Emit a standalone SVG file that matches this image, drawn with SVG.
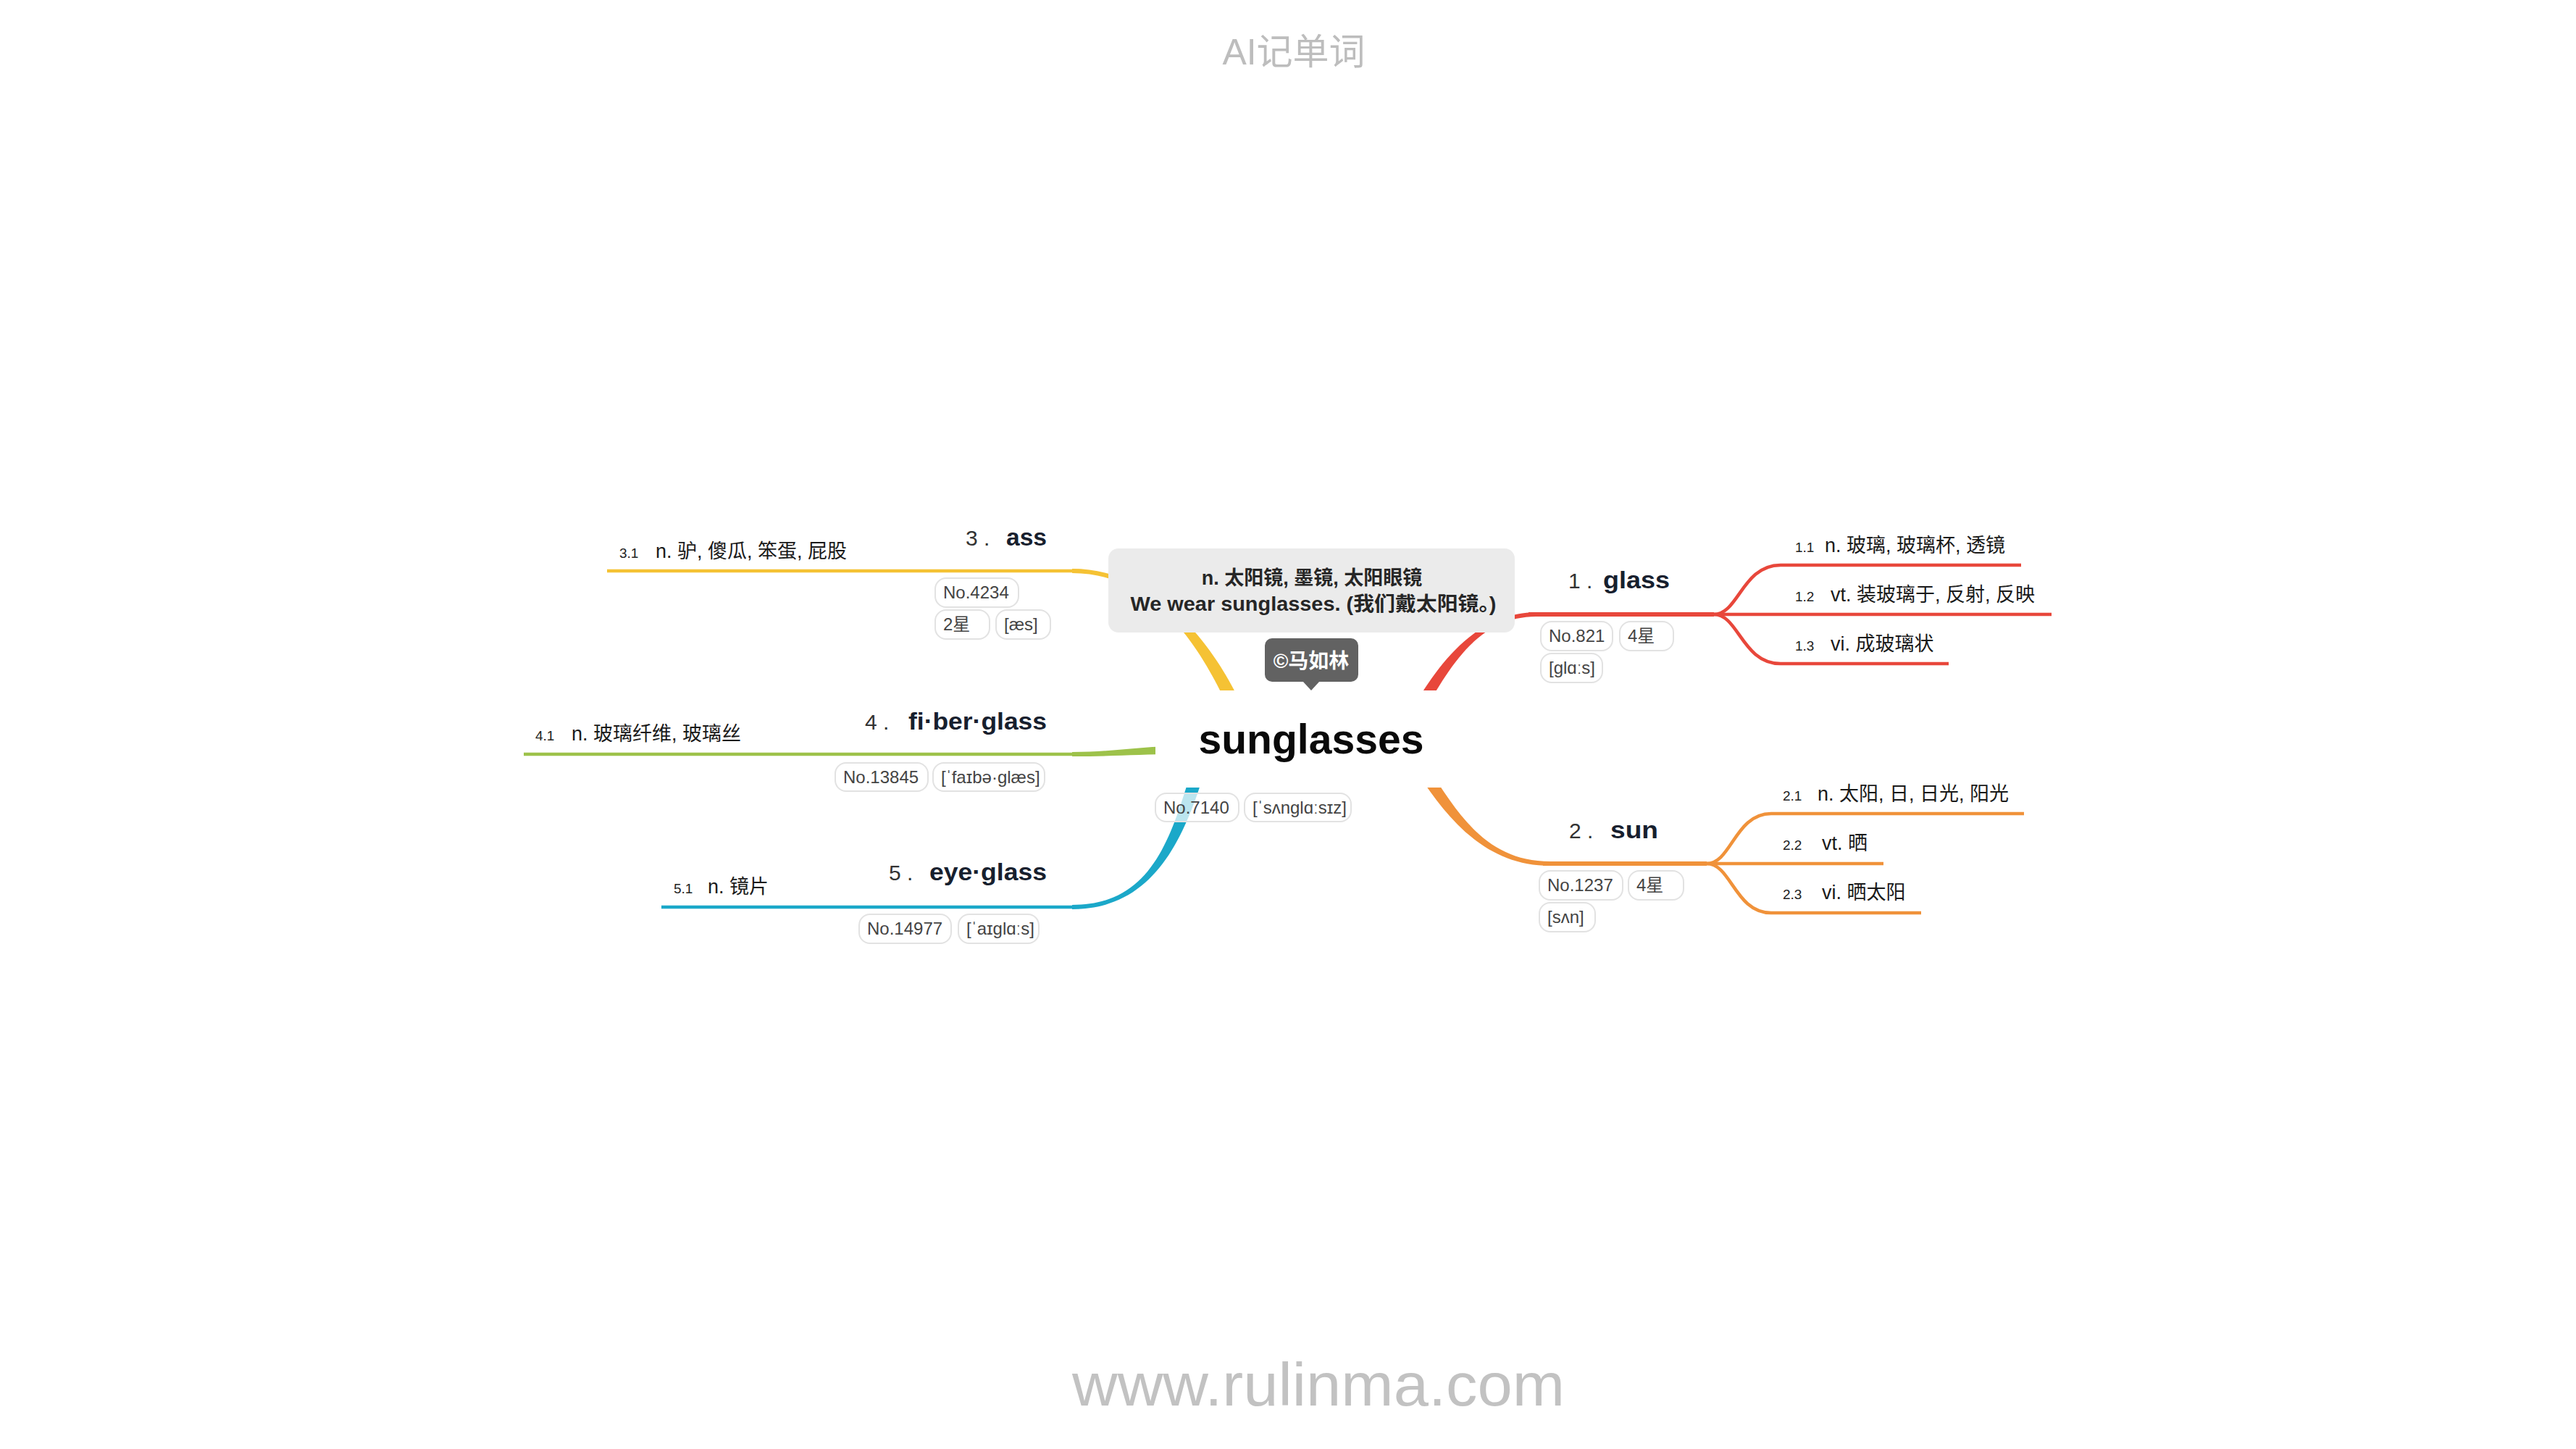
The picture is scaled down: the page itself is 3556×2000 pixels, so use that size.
<svg xmlns="http://www.w3.org/2000/svg" width="3556" height="2000" viewBox="0 0 3556 2000">
<style>
text{font-family:'Liberation Sans','Noto Sans CJK SC',sans-serif;}
.title{font-size:50px;fill:#bdbdbd;text-anchor:middle;}
.footer{font-size:84px;fill:#c2c2c2;text-anchor:middle;}
.center{font-size:58px;font-weight:bold;fill:#0a0a0a;text-anchor:middle;}
.def{font-size:27px;font-weight:bold;fill:#262626;text-anchor:middle;}
.copy{font-size:28px;font-weight:bold;fill:#ffffff;text-anchor:middle;}
.num{font-size:30px;fill:#333;}
.word{font-size:34px;font-weight:bold;fill:#17202e;}
.snum{font-size:19px;fill:#222;}
.stxt{font-size:27px;fill:#1a1a1a;}
.pill rect{fill:#fff;fill-opacity:0.7;stroke:#e2e2e2;stroke-width:2;}
.pill text{font-size:24px;fill:#444;}
.red{stroke:#e8473b;fill:none;}
.org{stroke:#f0923a;fill:none;}
.yel{stroke:#f5c234;fill:none;}
.grn{stroke:#9dc24a;fill:none;}
.blu{stroke:#1ba8c9;fill:none;}
.main{stroke-width:6;stroke-linecap:butt;}
.sub{stroke-width:4.5;stroke-linecap:butt;}
</style>

<text class="title" x="1786" y="89">AI记单词</text>
<text class="footer" x="1820" y="1940" textLength="680" lengthAdjust="spacingAndGlyphs">www.rulinma.com</text>

<g id="connectors">
  <!-- glass (red) -->
  <path fill="#e8473b" d="M1961.9,989 C2001.9,919 2040,852 2120,851 L2120,845 C2040,846 1988.1,911 1948.1,981 Z"/>
  <path class="red main" d="M2110,848 L2366,848"/>
  <path class="red sub" d="M2366,848 C2400,848 2405,780 2458,780 L2790,780"/>
  <path class="red sub" d="M2366,848 L2832,848"/>
  <path class="red sub" d="M2366,848 C2400,848 2405,916 2458,916 L2690,916"/>
  <!-- sun (orange) -->
  <path fill="#f0923a" d="M1958.3,1069.4 C1998.3,1129.4 2050,1195 2140,1195 L2140,1189 C2050,1189 2011.7,1120.6 1971.7,1060.6 Z"/>
  <path class="org main" d="M2130,1192 L2356,1192"/>
  <path class="org sub" d="M2356,1192 C2390,1192 2395,1123 2445,1123 L2794,1123"/>
  <path class="org sub" d="M2356,1192 L2600,1192"/>
  <path class="org sub" d="M2356,1192 C2390,1192 2395,1260 2445,1260 L2652,1260"/>
  <!-- ass (yellow) -->
  <path fill="#f5c234" d="M1713.2,971.2 C1678.2,896.2 1600,785 1480,785 L1480,791 C1600,791 1661.8,903.8 1696.8,978.8 Z"/>
  <path class="yel sub" d="M1490,788 L838,788"/>
  <!-- fiberglass (green) -->
  <path fill="#9dc24a" d="M1625,1030 C1570,1030 1540,1038 1480,1038 L1480,1044 C1540,1044 1570,1041 1625,1041 Z"/>
  <path class="grn sub" d="M1490,1041 L723,1041"/>
  <!-- eyeglass (blue) -->
  <path fill="#1ba8c9" d="M1646.4,1057.4 C1616.4,1157.4 1590,1249 1480,1249 L1480,1255 C1590,1255 1633.6,1162.6 1663.6,1062.6 Z"/>
  <path class="blu sub" d="M1490,1252 L913,1252"/>
</g>

<g id="node-center">
  <rect x="1595" y="953" width="430" height="134" fill="#fff"/>
  <text class="center" x="1810" y="1040" textLength="311" lengthAdjust="spacingAndGlyphs">sunglasses</text>
  <g class="pill"><rect x="1595" y="1095" width="115" height="39" rx="15"/><text x="1606" y="1123">No.7140</text></g>
  <g class="pill"><rect x="1718" y="1095" width="147" height="39" rx="15"/><text x="1729" y="1123">[ˈsʌnglɑːsɪz]</text></g>
</g>

<g id="node-definition">
  <rect x="1530" y="757" width="561" height="116" rx="14" fill="#ebebeb"/>
  <text class="def" x="1811" y="807">n. 太阳镜, 墨镜, 太阳眼镜</text>
  <text class="def" x="1813" y="843" textLength="505" lengthAdjust="spacingAndGlyphs">We wear sunglasses. (我们戴太阳镜。)</text>
</g>

<g id="node-copyright">
  <rect x="1746" y="881" width="129" height="60" rx="10" fill="#626262"/>
  <path d="M1798,940 L1822,940 L1810,953 Z" fill="#626262"/>
  <text class="copy" x="1810" y="922">©马如林</text>
</g>

<g id="node-1">
  <text y="812"><tspan class="num" x="2165">1 .</tspan><tspan class="word" x="2213" textLength="92" lengthAdjust="spacingAndGlyphs">glass</tspan></text>
  <g class="pill"><rect x="2127" y="858" width="99" height="40" rx="15"/><text x="2138" y="886">No.821</text></g>
  <g class="pill"><rect x="2236" y="858" width="74" height="40" rx="15"/><text x="2247" y="886">4星</text></g>
  <g class="pill"><rect x="2127" y="902" width="85" height="40" rx="15"/><text x="2138" y="930">[glɑːs]</text></g>
</g>
<g id="node-1-1"><text y="762"><tspan class="snum" x="2478">1.1</tspan><tspan class="stxt" x="2519">n. 玻璃, 玻璃杯, 透镜</tspan></text></g>
<g id="node-1-2"><text y="830"><tspan class="snum" x="2478">1.2</tspan><tspan class="stxt" x="2527">vt. 装玻璃于, 反射, 反映</tspan></text></g>
<g id="node-1-3"><text y="898"><tspan class="snum" x="2478">1.3</tspan><tspan class="stxt" x="2527">vi. 成玻璃状</tspan></text></g>

<g id="node-2">
  <text y="1157"><tspan class="num" x="2166">2 .</tspan><tspan class="word" x="2223" textLength="66" lengthAdjust="spacingAndGlyphs">sun</tspan></text>
  <g class="pill"><rect x="2125" y="1202" width="115" height="40" rx="15"/><text x="2136" y="1230">No.1237</text></g>
  <g class="pill"><rect x="2248" y="1202" width="76" height="40" rx="15"/><text x="2259" y="1230">4星</text></g>
  <g class="pill"><rect x="2125" y="1246" width="77" height="40" rx="15"/><text x="2136" y="1274">[sʌn]</text></g>
</g>
<g id="node-2-1"><text y="1105"><tspan class="snum" x="2461">2.1</tspan><tspan class="stxt" x="2509">n. 太阳, 日, 日光, 阳光</tspan></text></g>
<g id="node-2-2"><text y="1173"><tspan class="snum" x="2461">2.2</tspan><tspan class="stxt" x="2515">vt. 晒</tspan></text></g>
<g id="node-2-3"><text y="1241"><tspan class="snum" x="2461">2.3</tspan><tspan class="stxt" x="2515">vi. 晒太阳</tspan></text></g>

<g id="node-3">
  <text y="753"><tspan class="num" x="1333">3 .</tspan><tspan class="word" x="1389" textLength="56" lengthAdjust="spacingAndGlyphs">ass</tspan></text>
  <g class="pill"><rect x="1291" y="798" width="115" height="40" rx="15"/><text x="1302" y="826">No.4234</text></g>
  <g class="pill"><rect x="1291" y="842" width="75" height="40" rx="15"/><text x="1302" y="870">2星</text></g>
  <g class="pill"><rect x="1375" y="842" width="75" height="40" rx="15"/><text x="1386" y="870">[æs]</text></g>
</g>
<g id="node-3-1"><text y="770"><tspan class="snum" x="855">3.1</tspan><tspan class="stxt" x="905">n. 驴, 傻瓜, 笨蛋, 屁股</tspan></text></g>

<g id="node-4">
  <text y="1007"><tspan class="num" x="1194">4 .</tspan><tspan class="word" x="1254" textLength="191" lengthAdjust="spacingAndGlyphs">fi·ber·glass</tspan></text>
  <g class="pill"><rect x="1153" y="1053" width="128" height="39" rx="15"/><text x="1164" y="1081">No.13845</text></g>
  <g class="pill"><rect x="1288" y="1053" width="154" height="39" rx="15"/><text x="1299" y="1081">[ˈfaɪbə·glæs]</text></g>
</g>
<g id="node-4-1"><text y="1022"><tspan class="snum" x="739">4.1</tspan><tspan class="stxt" x="789">n. 玻璃纤维, 玻璃丝</tspan></text></g>

<g id="node-5">
  <text y="1215"><tspan class="num" x="1227">5 .</tspan><tspan class="word" x="1283" textLength="162" lengthAdjust="spacingAndGlyphs">eye·glass</tspan></text>
  <g class="pill"><rect x="1186" y="1262" width="127" height="40" rx="15"/><text x="1197" y="1290">No.14977</text></g>
  <g class="pill"><rect x="1323" y="1262" width="111" height="40" rx="15"/><text x="1334" y="1290">[ˈaɪglɑːs]</text></g>
</g>
<g id="node-5-1"><text y="1233"><tspan class="snum" x="930">5.1</tspan><tspan class="stxt" x="977">n. 镜片</tspan></text></g>
</svg>
